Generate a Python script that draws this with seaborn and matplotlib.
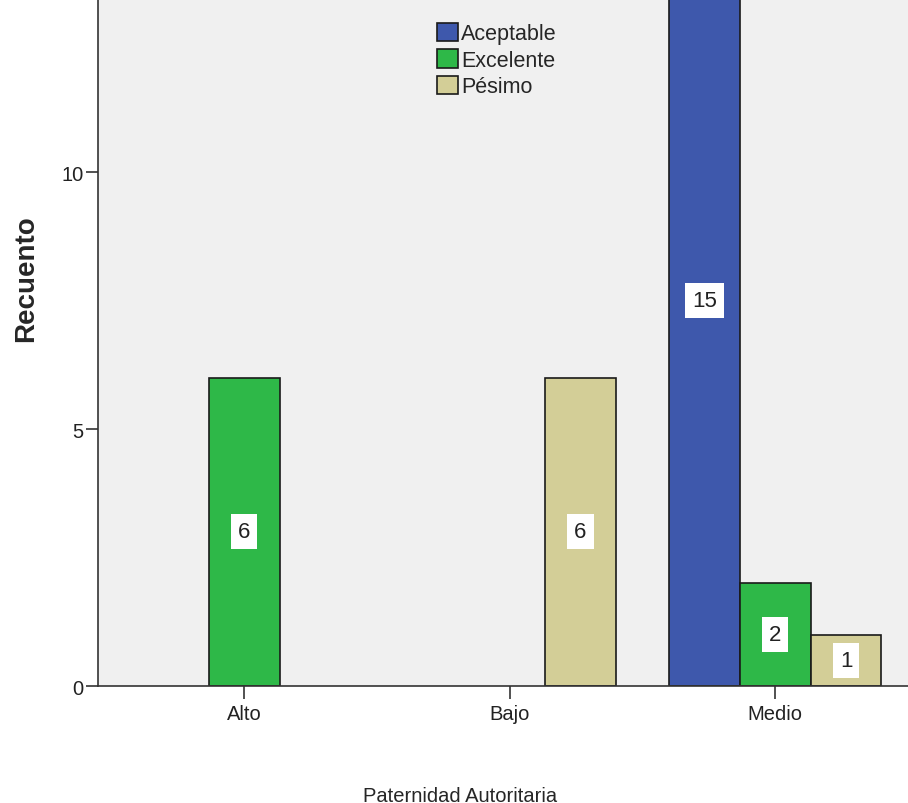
import pandas as pd
import matplotlib
matplotlib.use('Agg')
import matplotlib.pyplot as plt
import seaborn as sns

categorias = ['Alto', 'Bajo', 'Medio', 'Medio', 'Medio']
niveles = ['Excelente', 'Pésimo', 'Aceptable', 'Excelente', 'Pésimo']
recuentos = [6, 6, 15, 2, 1]
orden_x = ['Alto', 'Bajo', 'Medio']
orden_hue = ['Aceptable', 'Excelente', 'Pésimo']
colores = ['#3E58AC', '#2EB848', '#D3CE97']

data = pd.DataFrame({'Paternidad Autoritaria': categorias,
                     'Nivel': niveles,
                     'Recuento': recuentos})

sns.set_style('white')
plt.rcParams['font.family'] = ['Liberation Sans', 'DejaVu Sans']

fig = plt.figure(figsize=(9.08, 8.04), dpi=100)
ax = fig.add_axes([0.108, 0.1455, 0.892, 0.8545])
ax.set_facecolor('#F0F0F0')

sns.barplot(data=data, x='Paternidad Autoritaria', y='Recuento', hue='Nivel',
            order=orden_x, hue_order=orden_hue, palette=colores,
            width=0.8, edgecolor='#1a1a1a', linewidth=1.2, saturation=1, ax=ax)

# etiquetas en el centro de cada barra (aunque la barra quede recortada)
for cont in ax.containers:
    for b in cont:
        h = b.get_height()
        ax.text(b.get_x() + b.get_width() / 2, h / 2, str(int(h)),
                ha='center', va='center', fontsize=16, color='#222222',
                bbox=dict(facecolor='white', edgecolor='none', pad=5))

ax.set_ylim(0, 13.37)
ax.set_xlim(-0.55, 2.5)
ax.set_yticks([0, 5, 10])
ax.tick_params(axis='both', direction='out', length=9, width=1.2,
               labelsize=14.5, color='#333333', labelcolor='#222222',
               left=True, bottom=True)
ax.tick_params(axis='y', pad=1.5)
ax.tick_params(axis='x', pad=4)
for s in ['top', 'right']:
    ax.spines[s].set_visible(False)
for s in ['left', 'bottom']:
    ax.spines[s].set_color('#333333')
    ax.spines[s].set_linewidth(1.2)

ax.set_ylabel('Recuento', fontsize=20, fontweight='bold')
ax.yaxis.set_label_coords(-0.073, 0.594)
ax.set_xlabel('Paternidad Autoritaria', fontsize=14.5)
ax.xaxis.set_label_coords(0.447, -0.145)

leg = ax.legend(loc='upper left', bbox_to_anchor=(0.408, 0.978), frameon=False,
                fontsize=15.5, handlelength=0.95, handleheight=0.95,
                handletextpad=0.15, labelspacing=0.22, borderaxespad=0)
for h in leg.legend_handles:
    h.set_edgecolor('#1a1a1a')

fig.savefig('out.png', dpi=100)
